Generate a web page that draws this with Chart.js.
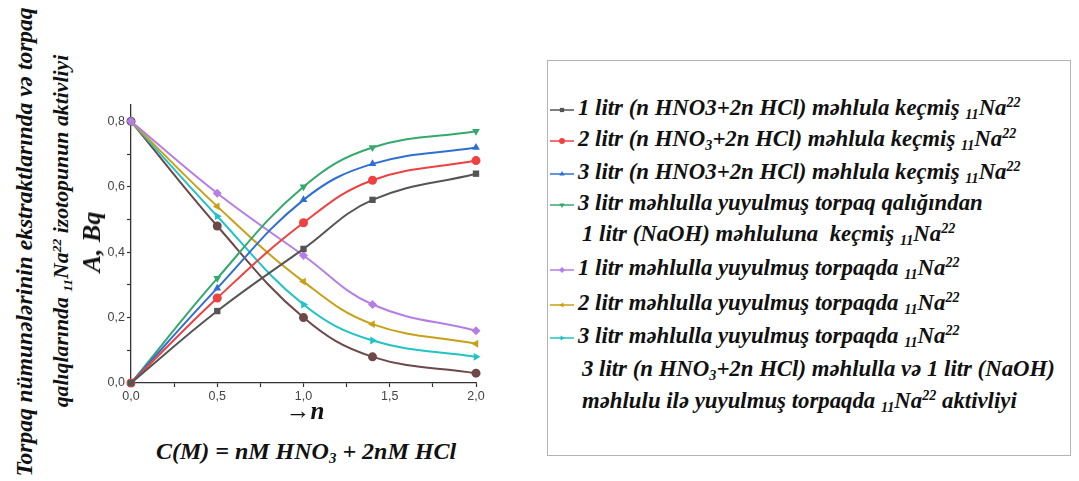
<!DOCTYPE html>
<html>
<head>
<meta charset="utf-8">
<script src="https://cdn.jsdelivr.net/npm/chart.js@4/dist/chart.umd.min.js"></script>
<style>
  html, body { margin: 0; padding: 0; background: #fff; }
  body { width: 1079px; height: 481px; position: relative; overflow: hidden; }
  .serif { font-family: "Liberation Serif", "Times New Roman", Tinos, Times, "DejaVu Serif", "Noto Serif", serif; font-weight: bold; font-style: italic; color: #111; }
  .rot { position: absolute; white-space: nowrap; transform: translate(-50%, -50%) rotate(-90deg); line-height: 1; }
  .ctr { position: absolute; white-space: nowrap; transform: translate(-50%, -50%); line-height: 1; }
  sub, sup { font-size: 0.62em; line-height: 0; position: relative; vertical-align: baseline; }
  sub { top: 0.3em; }
  sup { top: -0.55em; }
  #chartWrap { position: absolute; left: 90px; top: 95px; width: 400px; height: 320px; }
  #legend { position: absolute; left: 547px; top: 60px; width: 524px; height: 396px; border: 1.5px solid #b4b4b4; box-sizing: border-box; }
  .row { position: absolute; left: 0; height: 32px; line-height: 32px; font-size: 22.8px; white-space: nowrap; }
  .row canvas { vertical-align: middle; margin-right: 3px; }
</style>
</head>
<body>

<div id="chartWrap"><canvas id="mycanvas" width="400" height="320"></canvas></div>

<div class="rot serif" style="left:25px; top:242px; font-size:23.5px;">Torpaq nümunələrinin ekstraktlarında və torpaq</div>
<div class="rot serif" style="left:62px; top:231px; font-size:21.8px;">qalıqlarında <sub>11</sub>Na<sup>22</sup> izotopunun aktivliyi</div>
<div class="rot serif" style="left:92px; top:242px; font-size:26px;">A, Bq</div>
<div class="ctr serif" style="left:305px; top:410px; font-size:25px;">→n</div>
<div class="ctr serif" style="left:306px; top:451px; font-size:24px;">C(M) = nM HNO<sub>3</sub> + 2nM HCl</div>

<div id="legend" class="serif"></div>

<script>
// n values and measured activities (Bq)
var nValues = [0, 0.5, 1.0, 1.4, 2.0];

var s1litrExtract = [0, 0.22, 0.41, 0.56, 0.64];
var s2litrExtract = [0, 0.26, 0.49, 0.62, 0.68];
var s3litrExtract = [0, 0.29, 0.56, 0.67, 0.72];
var sNaOHExtract  = [0, 0.32, 0.60, 0.72, 0.77];
var s1litrSoil    = [0.8, 0.58, 0.39, 0.24, 0.16];
var s2litrSoil    = [0.8, 0.54, 0.31, 0.18, 0.12];
var s3litrSoil    = [0.8, 0.51, 0.24, 0.13, 0.08];
var sNaOHSoil     = [0.8, 0.48, 0.20, 0.08, 0.03];

var seriesNames = [
    '1 litr (n HNO3+2n HCl) məhlula keçmiş 11Na22',
    '2 litr (n HNO3+2n HCl) məhlula keçmiş 11Na22',
    '3 litr (n HNO3+2n HCl) məhlula keçmiş 11Na22',
    '3 litr məhlulla yuyulmuş torpaq qalığından 1 litr (NaOH) məhluluna keçmiş 11Na22',
    '1 litr məhlulla yuyulmuş torpaqda 11Na22',
    '2 litr məhlulla yuyulmuş torpaqda 11Na22',
    '3 litr məhlulla yuyulmuş torpaqda 11Na22',
    '3 litr (n HNO3+2n HCl) məhlulla və 1 litr (NaOH) məhlulu ilə yuyulmuş torpaqda 11Na22 aktivliyi'
];
var seriesValues = [s1litrExtract, s2litrExtract, s3litrExtract, sNaOHExtract, s1litrSoil, s2litrSoil, s3litrSoil, sNaOHSoil];
var seriesColors = ['#555555', '#ee4242', '#2f6fd4', '#35a96c', '#b57ee6', '#c9a015', '#22c3c6', '#6e4848'];
var seriesMarkers = ['rect', 'circle', 'triangle', 'triangle', 'rectRot', 'triangle', 'triangle', 'circle'];
var markerRotation = [0, 0, 0, 180, 0, -90, 90, 0];

var yTicks = [0, 0.2, 0.4, 0.6, 0.8];
var xTicks = [0, 0.5, 1.0, 1.5, 2.0];

// legend lines: text (html) and which dataset marker goes in front (-1 = none)
var legendLines = [
    [0, '1 litr (n HNO3+2n HCl) məhlula keçmiş <sub>11</sub>Na<sup>22</sup>'],
    [1, '2 litr (n HNO<sub>3</sub>+2n HCl) məhlula keçmiş <sub>11</sub>Na<sup>22</sup>'],
    [2, '3 litr (n HNO3+2n HCl) məhlula keçmiş <sub>11</sub>Na<sup>22</sup>'],
    [3, '3 litr məhlulla yuyulmuş torpaq qalığından'],
    [-1, '1 litr (NaOH) məhluluna&nbsp; keçmiş <sub>11</sub>Na<sup>22</sup>'],
    [4, '1 litr məhlulla yuyulmuş torpaqda <sub>11</sub>Na<sup>22</sup>'],
    [5, '2 litr məhlulla yuyulmuş torpaqda <sub>11</sub>Na<sup>22</sup>'],
    [6, '3 litr məhlulla yuyulmuş torpaqda <sub>11</sub>Na<sup>22</sup>'],
    [-1, '3 litr (n HNO<sub>3</sub>+2n HCl) məhlulla və 1 litr (NaOH)'],
    [-1, 'məhlulu ilə yuyulmuş torpaqda <sub>11</sub>Na<sup>22</sup> aktivliyi']
];
var legendRowCenters = [107, 138, 171, 202, 233, 267, 302, 335, 368, 400];

function comma(v) {
    return v.toFixed(1).replace('.', ',');
}

var datasets = seriesValues.map(function (vals, i) {
    return {
        label: seriesNames[i],
        data: vals.map(function (v, j) { return {x: nValues[j], y: v}; }),
        borderColor: seriesColors[i],
        backgroundColor: seriesColors[i],
        borderWidth: 2,
        pointStyle: seriesMarkers[i],
        rotation: markerRotation[i],
        pointRadius: 4.5,
        pointBorderWidth: 0,
        tension: 0.4,
        clip: false
    };
});

var ctx_live = document.getElementById('mycanvas');
var myChart = new Chart(ctx_live, {
    type: 'line',
    data: {datasets: datasets},
    options: {
        responsive: false,
        animation: false,
        devicePixelRatio: 1,
        layout: {padding: {top: 10, right: 14, left: 0, bottom: 0}},
        plugins: {legend: {display: false}, tooltip: {enabled: false}},
        scales: {
            x: {
                type: 'linear',
                min: 0, max: 2.0,
                afterFit: function (scale) { scale.height = 32; },
                border: {color: '#333', width: 1.3},
                grid: {drawOnChartArea: false, tickLength: 4, tickColor: '#333', tickWidth: 1.2},
                ticks: {
                    stepSize: 0.25, autoSkip: false, maxRotation: 0, padding: 2, color: '#444',
                    font: {family: 'Liberation Sans', size: 12.5},
                    callback: function (v) {
                        return xTicks.some(function (t) { return Math.abs(t - v) < 1e-6; }) ? comma(v) : '';
                    }
                }
            },
            y: {
                min: 0, max: 0.85,
                afterFit: function (scale) { scale.width = 41; },
                border: {color: '#333', width: 1.3},
                grid: {drawOnChartArea: false, tickLength: 4, tickColor: '#333', tickWidth: 1.2},
                ticks: {
                    stepSize: 0.1, includeBounds: false, autoSkip: false, padding: 2, color: '#444',
                    font: {family: 'Liberation Sans', size: 12.5},
                    callback: function (v) {
                        return yTicks.some(function (t) { return Math.abs(t - v) < 1e-6; }) ? comma(v) : '';
                    }
                }
            }
        }
    }
});

// html legend with small line+marker samples from the datasets
var legendDiv = document.getElementById('legend');
legendLines.forEach(function (item, k) {
    var row = document.createElement('div');
    row.className = 'row';
    row.style.top = (legendRowCenters[k] - 60 - 16) + 'px';
    var idx = item[0];
    if (idx >= 0) {
        var c = document.createElement('canvas');
        c.width = 26; c.height = 14;
        var g = c.getContext('2d');
        var ds = myChart.data.datasets[idx];
        g.strokeStyle = ds.borderColor;
        g.fillStyle = ds.backgroundColor;
        g.lineWidth = 1.5;
        g.beginPath(); g.moveTo(1, 7); g.lineTo(25, 7); g.stroke();
        Chart.helpers.drawPoint(g, {pointStyle: ds.pointStyle, rotation: ds.rotation, radius: 3, borderWidth: 0}, 13, 7);
        row.style.left = '1px';
        row.appendChild(c);
    } else {
        row.style.left = '34px';
    }
    var span = document.createElement('span');
    span.innerHTML = item[1];
    row.appendChild(span);
    legendDiv.appendChild(row);
});
</script>
</body>
</html>
